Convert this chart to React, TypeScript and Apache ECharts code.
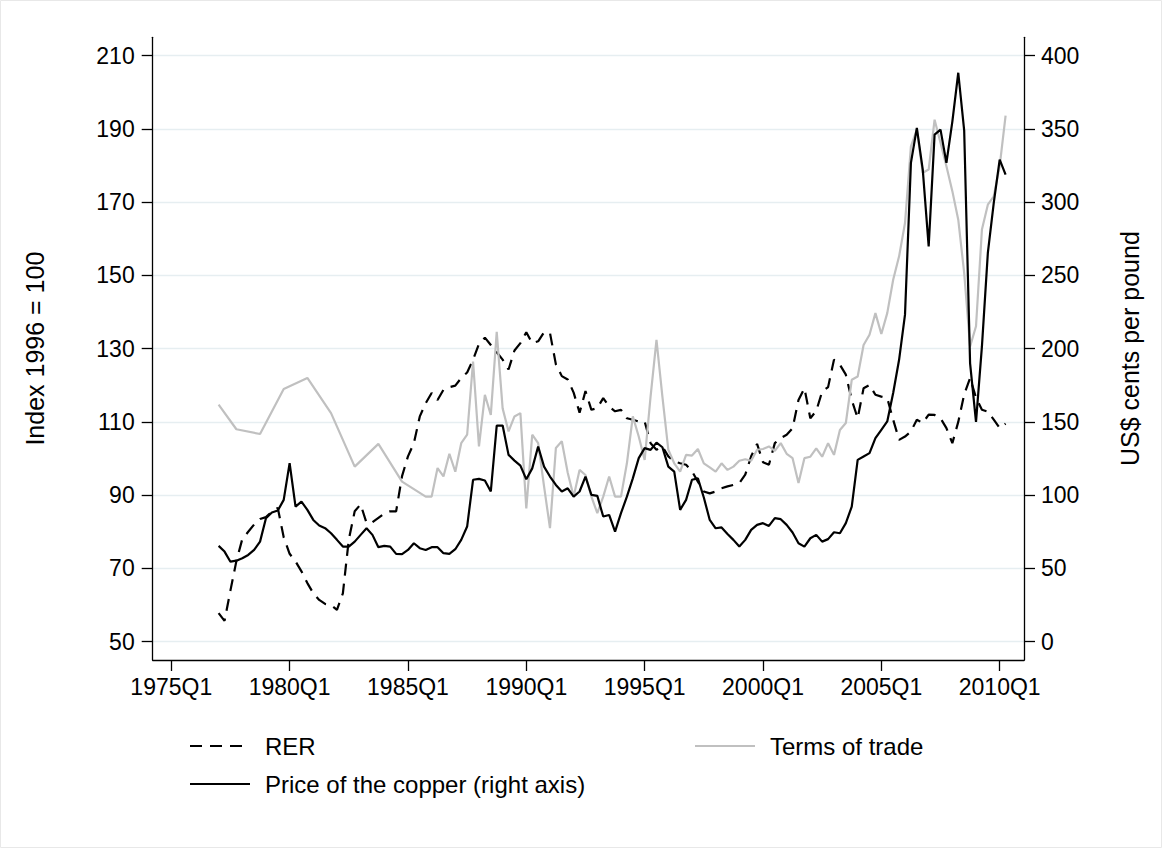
import React, { useEffect, useRef } from "react";
import * as echarts from "echarts";

// Quarter index: quarters since 1960Q1 (1975Q1 = 60)
const START_Q = 68; // 1977Q1
const X_TICKS = [60, 80, 100, 120, 140, 160, 180, 200];
const LEFT_TICKS = [50, 70, 90, 110, 130, 150, 170, 190, 210];
const RIGHT_TICKS = [0, 50, 100, 150, 200, 250, 300, 350, 400];

// Real exchange rate (index 1996 = 100), quarterly from 1977Q1
const rer = [
  57.8, 55.7, 64, 72, 78, 80, 82, 83.5, 84, 85.5,
  86.5, 78.5, 74, 71.9, 69.2, 66, 63.2, 61.4, 60.3, 60,
  58.7, 63.2, 77.9, 85.6, 87.5, 82.4, 82.6, 83.8, 85, 85.6,
  85.6, 95.2, 100.6, 104.2, 111.5, 115.1, 117.9, 116, 118.8, 119.5,
  119.9, 122, 123.5, 127, 131.3, 133, 131, 129, 127, 124.3,
  129.5, 131.5, 134.5, 131.5, 132, 134.5, 134.3, 125.7, 122.5, 121.6,
  118, 112.5, 118.4, 113.3, 113.8, 116.5, 114.2, 112.9, 113.3, 111,
  110.6, 110.1, 110.1, 104.2, 102.4, 103.3, 100.6, 99.2, 98.7, 98.3,
  96.5, 93.7, 91, 90.5, 91, 91.9, 92.4, 92.8, 93.3, 95.6,
  100.6, 104, 99, 98.3, 104.2, 105.6, 106.5, 108.3, 116, 119.2,
  111, 113, 118.3, 119.5, 127, 125.6, 122.9, 116, 111, 119.2,
  120.1, 117.4, 116.9, 116.5, 110.6, 105.1, 106, 107.4, 110.6, 109.7,
  112, 111.9, 111, 108.3, 104.2, 110, 117.5, 122, 116.6, 113.3,
  112.8, 110.6, 108.3, 109.5,
];

// Price of copper (US$ cents per pound), quarterly from 1977Q1
const copper = [
  65.4, 61.5, 54.6, 55.3, 57, 59.2, 62.6, 68.3, 84.3, 88.2,
  89.5, 96.8, 121.9, 92.2, 95.6, 90, 83.1, 79.3, 77.5, 74,
  69.5, 64.9, 64.9, 68.3, 72.9, 77.4, 72.9, 64.5, 65.4, 64.9,
  59.9, 59.7, 62.6, 67.2, 63.8, 62.6, 64.5, 64.5, 60.4, 59.9,
  63.1, 69.5, 78.6, 110.5, 111.1, 110, 102.5, 147.5, 147.5, 127.5,
  123.6, 120.2, 110.8, 118.3, 133.2, 119.5, 112.7, 107, 102.5, 104.7,
  99, 102.5, 112.7, 100.2, 99.5, 85.4, 86.5, 75.1, 87.7, 99,
  111.5, 125.3, 132.1, 130.9, 135.9, 132.7, 119.5, 116.1, 90, 96.8,
  110.5, 111.5, 98.4, 83.1, 77.4, 78, 73.5, 69.5, 64.9, 69.5,
  76.3, 79.7, 80.9, 79, 84.3, 83.6, 79.7, 74.5, 67.2, 64.9,
  70.6, 72.9, 68.3, 70, 74.7, 74, 80.9, 92.2, 124.1, 126.4,
  128.7, 138.9, 144.6, 150.3, 169.7, 192.4, 223.2, 326.8, 350.7, 322.2,
  269.8, 346.1, 349.5, 326.8, 355, 388.3, 349, 190, 150, 201.5,
  265.3, 299.5, 329, 318.8,
];

// Terms of trade: annual points early on, quarterly later [quarter index, value]
const termsOfTrade: [number, number][] = [
  [68, 114.7], [71, 108], [75, 106.7], [79, 119], [83, 122], [87, 112.4],
  [91, 97.8], [95, 104], [99, 93.7], [103, 89.6], [104, 89.6], [105, 97.4],
  [106, 95.1], [107, 101.3], [108, 96.4], [109, 104.2], [110, 106.5], [111, 126.5],
  [112, 103.3], [113, 117.4], [114, 111.9], [115, 134.6], [116, 113.7], [117, 107.4],
  [118, 111.5], [119, 112.4], [120, 86.4], [121, 106.5], [122, 104.2], [123, 92.4],
  [124, 81], [125, 102.9], [126, 104.7], [127, 96.1], [128, 89.6], [129, 96.9],
  [130, 95.5], [131, 89.6], [132, 85.1], [133, 89.6], [134, 95.1], [135, 89.6],
  [136, 89.6], [137, 98.7], [138, 111.5], [139, 106], [140, 99.6], [141, 116.9],
  [142, 132.4], [143, 116.9], [144, 102.4], [145, 98.7], [146, 96.4], [147, 101],
  [148, 100.8], [149, 102.6], [150, 98.7], [151, 97.6], [152, 96.4], [153, 98.7],
  [154, 96.9], [155, 97.8], [156, 99.4], [157, 99.8], [158, 99.4], [159, 102.4],
  [160, 102.6], [161, 103.3], [162, 102.1], [163, 104.2], [164, 101.3], [165, 100.1],
  [166, 93.3], [167, 100.1], [168, 100.5], [169, 102.8], [170, 100.5], [171, 104.2],
  [172, 101], [173, 107.8], [174, 109.7], [175, 121.5], [176, 122.4], [177, 131],
  [178, 133.8], [179, 139.7], [180, 134], [181, 139.7], [182, 148.8], [183, 155.2],
  [184, 164.3], [185, 185.2], [186, 189.8], [187, 178], [188, 178.9], [189, 192.5],
  [190, 186.2], [191, 179.8], [192, 173], [193, 165.2], [194, 150.7], [195, 130.6],
  [196, 136.1], [197, 162.5], [198, 169.3], [199, 171.6], [200, 179.8], [201, 193.6],
];

const FONT = "'Liberation Sans', Arial, sans-serif";
const FS = 23;
const FS_TITLE = 25;
const FS_LEGEND = 24;
const GRID_COLOR = "#e6eef1";
const TOT_COLOR = "#c0c0c0";
const DASH = [12, 8];

function quarterLabel(t: number) {
  const year = Math.floor(t / 4) + 1960;
  const q = (t % 4) + 1;
  return `${year}Q${q}`;
}

export default function App() {
  const ref = useRef<HTMLDivElement>(null);

  useEffect(() => {
    if (!ref.current) return;
    const chart = echarts.init(ref.current, undefined, { renderer: "svg" });

    const rerData = rer.map((v, i) => [START_Q + i, v]);
    const copperData = copper.map((v, i) => [START_Q + i, v]);

    const axisLineStyle = { color: "#000", width: 1.3 };

    chart.setOption({
      animation: false,
      backgroundColor: "#fff",
      textStyle: { fontFamily: FONT },
      grid: { left: 152.7, right: 138, top: 37.3, bottom: 188, containLabel: false },
      xAxis: {
        type: "value",
        min: 56.86,
        max: 204.11,
        axisLine: { show: true, onZero: false, lineStyle: axisLineStyle },
        axisTick: { show: true, length: 11, customValues: X_TICKS, lineStyle: axisLineStyle },
        axisLabel: {
          customValues: X_TICKS,
          formatter: (v: number) => quarterLabel(Math.round(v)),
          fontSize: FS,
          color: "#000",
          fontFamily: FONT,
          margin: 15,
          showMinLabel: true,
          showMaxLabel: true,
        },
        splitLine: { show: false },
      },
      yAxis: [
        {
          type: "value",
          position: "left",
          min: 45,
          max: 215,
          name: "Index 1996 = 100",
          nameLocation: "middle",
          nameRotate: 90,
          nameGap: 105,
          nameTextStyle: { fontSize: FS_TITLE, color: "#000", fontFamily: FONT },
          axisLine: { show: true, onZero: false, lineStyle: axisLineStyle },
          axisTick: { show: true, length: 11, customValues: LEFT_TICKS, lineStyle: axisLineStyle },
          axisLabel: {
            customValues: LEFT_TICKS,
            fontSize: FS,
            color: "#000",
            fontFamily: FONT,
            margin: 18,
          },
          splitLine: { show: true, lineStyle: { color: GRID_COLOR, width: 1.3 } },
        },
        {
          type: "value",
          position: "right",
          min: -12.5,
          max: 412.5,
          name: "US$ cents per pound",
          nameLocation: "middle",
          nameRotate: 90,
          nameGap: 93,
          nameTextStyle: { fontSize: FS_TITLE, color: "#000", fontFamily: FONT },
          axisLine: { show: true, onZero: false, lineStyle: axisLineStyle },
          axisTick: { show: true, length: 11, customValues: RIGHT_TICKS, lineStyle: axisLineStyle },
          axisLabel: {
            customValues: RIGHT_TICKS,
            fontSize: FS,
            color: "#000",
            fontFamily: FONT,
            margin: 17,
          },
          splitLine: { show: false },
        },
      ],
      series: [
        {
          name: "RER",
          type: "line",
          yAxisIndex: 0,
          data: rerData,
          showSymbol: false,
          symbol: "none",
          lineStyle: { color: "#000", width: 2.2, type: DASH },
        },
        {
          name: "Terms of trade",
          type: "line",
          yAxisIndex: 0,
          data: termsOfTrade,
          showSymbol: false,
          symbol: "none",
          lineStyle: { color: TOT_COLOR, width: 2.2 },
        },
        {
          name: "Price of the copper (right axis)",
          type: "line",
          yAxisIndex: 1,
          data: copperData,
          showSymbol: false,
          symbol: "none",
          lineStyle: { color: "#000", width: 2.2 },
        },
      ],
      graphic: [
        {
          type: "rect",
          shape: { x: 0.5, y: 0.5, width: 1161, height: 847 },
          style: { fill: "none", stroke: "#e8e8e8", lineWidth: 1 },
          silent: true,
        },
        {
          type: "line",
          shape: { x1: 190, y1: 746, x2: 250, y2: 746 },
          style: { stroke: "#000", lineWidth: 2.2, lineDash: DASH },
        },
        {
          type: "text",
          x: 265,
          y: 746,
          style: { text: "RER", font: `${FS_LEGEND}px ${FONT}`, fill: "#000", textVerticalAlign: "middle" },
        },
        {
          type: "line",
          shape: { x1: 695, y1: 746, x2: 755, y2: 746 },
          style: { stroke: TOT_COLOR, lineWidth: 2.2 },
        },
        {
          type: "text",
          x: 770,
          y: 746,
          style: {
            text: "Terms of trade",
            font: `${FS_LEGEND}px ${FONT}`,
            fill: "#000",
            textVerticalAlign: "middle",
          },
        },
        {
          type: "line",
          shape: { x1: 190, y1: 784, x2: 250, y2: 784 },
          style: { stroke: "#000", lineWidth: 2.2 },
        },
        {
          type: "text",
          x: 265,
          y: 784,
          style: {
            text: "Price of the copper (right axis)",
            font: `${FS_LEGEND}px ${FONT}`,
            fill: "#000",
            textVerticalAlign: "middle",
          },
        },
      ],
    });

    return () => chart.dispose();
  }, []);

  return (
    <div
      ref={ref}
      style={{ position: "absolute", left: 0, top: 0, width: 1162, height: 848, background: "#fff" }}
    />
  );
}
